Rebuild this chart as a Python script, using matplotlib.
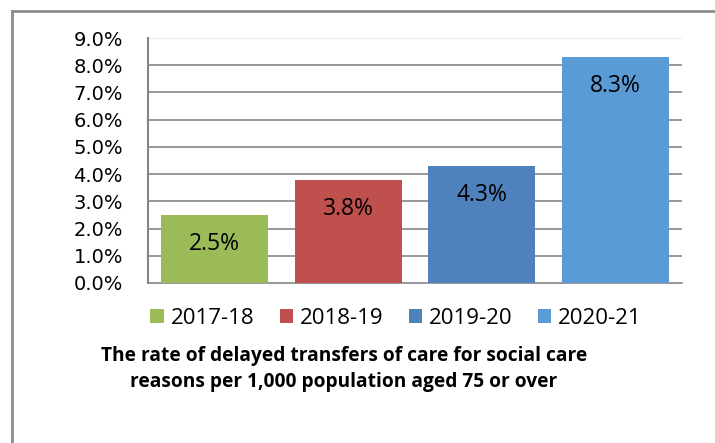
import matplotlib
matplotlib.use('Agg')
import matplotlib.pyplot as plt
from matplotlib.lines import Line2D
from matplotlib.patches import Patch

# Chart data.
years = ['2017-18', '2018-19', '2019-20', '2020-21']
rates = [2.5, 3.8, 4.3, 8.3]
colours = ['#9BBB59', '#C0504D', '#4F81BD', '#5B9BD5']
y_ticks = [0, 1, 2, 3, 4, 5, 6, 7, 8, 9]
title = ('The rate of delayed transfers of care for social care\n'
         'reasons per 1,000 population aged 75 or over')

fig = plt.figure(figsize=(7.15, 4.43), dpi=100)
W, H = 715, 443

# Plot area in pixel coordinates of the reference.
left, right, top, bottom = 148, 682, 38, 283
ax = fig.add_axes([left / W, 1 - bottom / H, (right - left) / W, (bottom - top) / H])

x = range(len(years))
bars = ax.bar(x, rates, width=0.8, color=colours, zorder=3)
ax.set_xlim(-0.5, len(years) - 0.5)
ax.set_ylim(0, 9)

# Gridlines.
for t in y_ticks[1:-1]:
    ax.axhline(t, color='#868686', linewidth=1.2, zorder=1)
ax.axhline(9, color='#eeeeee', linewidth=1, zorder=1)

ax.set_yticks(y_ticks)
ax.set_yticklabels(['%.1f%%' % t for t in y_ticks], fontsize=14, family='DejaVu Sans')
ax.tick_params(axis='y', length=0, pad=18)
ax.set_xticks([])
for side in ['top', 'right']:
    ax.spines[side].set_visible(False)
ax.spines['left'].set_color('#868686')
ax.spines['left'].set_linewidth(1.5)
ax.spines['bottom'].set_color('#868686')
ax.spines['bottom'].set_linewidth(1.2)

# Data labels inside the bars.
for b, v in zip(bars, rates):
    ax.annotate('%.1f%%' % v, (b.get_x() + b.get_width() / 2, v),
                xytext=(0, -29), textcoords='offset pixels',
                ha='center', va='center', fontsize=16.5, family='Open Sans', zorder=4)

# Legend.
handles = [Patch(facecolor=c, edgecolor='none') for c in colours]
fig.legend(handles, years, loc='center', bbox_to_anchor=(396 / W, 1 - 318 / H),
           ncol=4, frameon=False, prop={'family': 'Open Sans', 'size': 16},
           handlelength=0.6, handleheight=0.6, handletextpad=0.3, columnspacing=1.15)

# Caption.
fig.text(344 / W, 1 - 369 / H, title, ha='center', va='center', fontsize=13.8,
         family='Open Sans', fontweight='bold', linespacing=1.4)

# Outer frame (left and top edges visible).
fig.add_artist(Line2D([12 / W, 12 / W], [0, 1 - 11 / H], color='#8c8c8c', linewidth=2,
                      transform=fig.transFigure))
fig.add_artist(Line2D([12 / W, 1], [1 - 11 / H, 1 - 11 / H], color='#8c8c8c', linewidth=2,
                      transform=fig.transFigure))

fig.savefig('out.png', dpi=100)
